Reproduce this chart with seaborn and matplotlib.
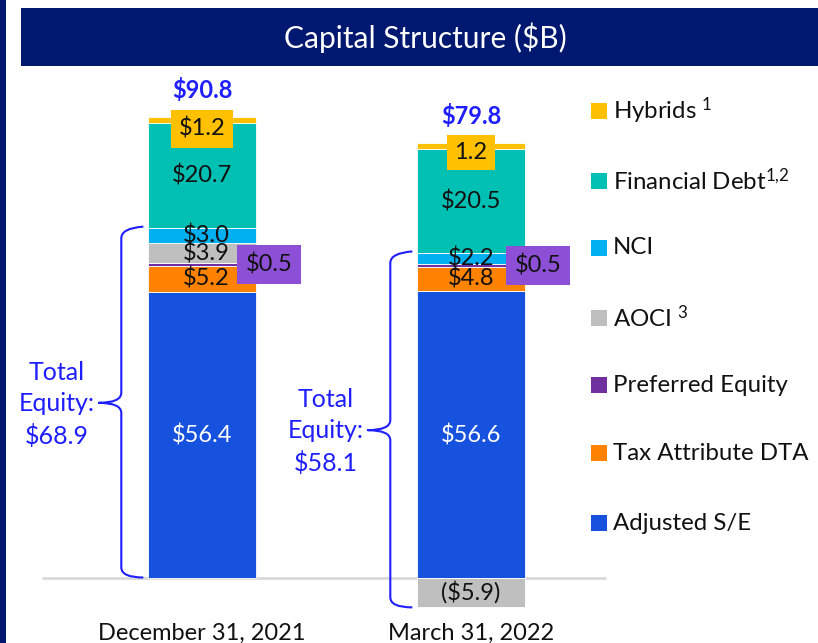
import numpy as np
import pandas as pd
import matplotlib
matplotlib.use("Agg")
import matplotlib.pyplot as plt
from matplotlib.patches import Rectangle, PathPatch
from matplotlib.path import Path
import seaborn as sns

# ---------------- data ----------------
categories = ["December 31, 2021", "March 31, 2022"]
adjusted_se = [56.4, 56.6]
tax_dta = [5.2, 4.8]
preferred = [0.5, 0.5]
aoci = [3.9, -5.9]
nci = [3.0, 2.2]
fin_debt = [20.7, 20.5]
hybrids = [1.2, 1.2]
totals = [90.8, 79.8]
total_equity = [68.9, 58.1]

layer_names = ["Adjusted S/E", "Tax Attribute DTA", "Preferred Equity", "AOCI",
               "NCI", "Financial Debt", "Hybrids"]
layer_values = [adjusted_se, tax_dta, preferred, aoci, nci, fin_debt, hybrids]
layer_colors = ["#1652DE", "#FF8200", "#7030A0", "#BFBFBF", "#00B0F0", "#00BFB3", "#FFC000"]
seg_labels = {
    "Adjusted S/E": ["$56.4", "$56.6"],
    "Tax Attribute DTA": ["$5.2", "$4.8"],
    "Preferred Equity": ["$0.5", "$0.5"],
    "AOCI": ["$3.9", "($5.9)"],
    "NCI": ["$3.0", "$2.2"],
    "Financial Debt": ["$20.7", "$20.5"],
    "Hybrids": ["$1.2", "1.2"],
}
legend_labels = ["Hybrids $^{1}$", "Financial Debt$^{1{,}2}$", "NCI", "AOCI $^{3}$",
                 "Preferred Equity", "Tax Attribute DTA", "Adjusted S/E"]
legend_colors = ["#FFC000", "#00BFB3", "#00B0F0", "#BFBFBF", "#7030A0", "#FF8200", "#1652DE"]

# ---------------- style ----------------
sns.set_theme(style="white")
plt.rcParams["font.family"] = ["Lato", "DejaVu Sans"]
plt.rcParams["mathtext.fontset"] = "custom"
plt.rcParams["mathtext.rm"] = "Lato"
plt.rcParams["mathtext.default"] = "regular"

W, H = 818, 643
fig = plt.figure(figsize=(W / 100, H / 100), dpi=100)
fig.patch.set_facecolor("white")

def fx(px):
    return px / W

def fy(py):
    return 1 - py / H

NAVY = "#00186F"
BLUE_TXT = "#1E1EFF"
TXT = "#111111"

# left strip and title banner
fig.patches.append(Rectangle((0, 0), fx(6), 1, transform=fig.transFigure,
                             facecolor=NAVY, edgecolor="none", zorder=0))
fig.patches.append(Rectangle((fx(21), fy(66)), 1 - fx(21), fy(8) - fy(66),
                             transform=fig.transFigure, facecolor=NAVY,
                             edgecolor="none", zorder=0))
fig.text(fx(425), fy(38), "Capital Structure ($B)", color="white", fontsize=21.5,
         ha="center", va="center")

# axes: pixel mapping
ax = fig.add_axes([0, fy(612), 1, 1 - fy(612)])
ax.patch.set_visible(False)

pos_cum = np.zeros(len(categories))
neg_cum = np.zeros(len(categories))
bottoms = {}
for name, vals, col in zip(layer_names, layer_values, layer_colors):
    vals = np.array(vals, dtype=float)
    bot = np.where(vals >= 0, pos_cum, neg_cum)
    bottoms[name] = bot.copy()
    df = pd.DataFrame({"cat": categories, "val": vals})
    sns.barplot(data=df, x="cat", y="val", order=categories, bottom=bot, color=col,
                width=0.4015, errorbar=None, edgecolor="white", linewidth=0.6,
                saturation=1, ax=ax)
    pos_cum = pos_cum + np.where(vals >= 0, vals, 0)
    neg_cum = neg_cum + np.where(vals < 0, vals, 0)

ppx = 269.0     # pixels per x unit
ppy = 5.063     # pixels per y unit
ax.set_xlim(-202 / ppx, (W - 202) / ppx)
ax.set_ylim(-34.5 / ppy, 577.5 / ppy)
for s in ax.spines.values():
    s.set_visible(False)
ax.set_yticks([])
ax.set_xlabel("")
ax.set_ylabel("")
ax.tick_params(axis="x", length=0, pad=8, labelsize=17, labelcolor=TXT)

# zero line
ax.axhline(0, xmin=43 / W, xmax=605 / W, color="#D9D9D9", lw=2, zorder=0.5)

# segment labels
for i, cat in enumerate(categories):
    for name, vals in zip(layer_names, layer_values):
        v = vals[i]
        b = bottoms[name][i]
        c = b + v / 2
        lab = seg_labels[name][i]
        if name == "Hybrids":
            off = -1.7 if i == 0 else -1.2
            padx = 0.33 if i == 0 else 0.3
            ax.text(i, c + off, lab, ha="center", va="center", fontsize=17, color=TXT,
                    bbox=dict(boxstyle=f"square,pad={padx}", fc="#FFC000", ec="none"), zorder=5)
        elif name == "Preferred Equity":
            ax.text(i + 0.249, c, lab, ha="center", va="center", fontsize=17, color=TXT,
                    bbox=dict(boxstyle="square,pad=0.36", fc="#8C4FD6", ec="none"), zorder=5)
        elif name == "Adjusted S/E":
            ax.text(i, c - 0.2, lab, ha="center", va="center", fontsize=17, color="white", zorder=5)
        else:
            ax.text(i + (0.015 if i == 0 and name in ("NCI", "AOCI", "Tax Attribute DTA") else 0),
                    c, lab, ha="center", va="center", fontsize=17, color=TXT, zorder=5)

# totals
top_pos = pos_cum
for i, t in enumerate(totals):
    ax.text(i, top_pos[i] + 5.3, f"${t:.1f}", ha="center", va="center", fontsize=17,
            fontweight="bold", color=BLUE_TXT, zorder=6)

# braces for total equity
def brace(ax, xv, top, bottom, x_hook_top, x_hook_bot, x_tip, color):
    mid = (top + bottom) / 2
    r = 2.0
    verts = [(x_hook_top, top + 0.3), (xv, top), (xv, top - r),
             (xv, mid + r),
             (xv, mid), (x_tip, mid),
             (xv, mid), (xv, mid - r),
             (xv, bottom + r),
             (xv, bottom), (x_hook_bot, bottom)]
    codes = [Path.MOVETO, Path.CURVE3, Path.CURVE3, Path.LINETO,
             Path.CURVE3, Path.CURVE3, Path.CURVE3, Path.CURVE3,
             Path.LINETO, Path.CURVE3, Path.CURVE3]
    ax.add_patch(PathPatch(Path(verts, codes), fc="none", ec=color, lw=1.5, zorder=4))
    return mid

for i, te in enumerate(total_equity):
    top = adjusted_se[i] + tax_dta[i] + preferred[i] + max(aoci[i], 0) + nci[i]
    bot = min(aoci[i], 0)
    mid = brace(ax, i - 0.30, top, bot, i - 0.218, i - 0.218, i - 0.385, BLUE_TXT)
    ax.text(i - 0.54, mid - 0.3, f"Total\nEquity:\n${te:.1f}", ha="center", va="center",
            fontsize=18, color=BLUE_TXT, linespacing=1.45, zorder=5)

# legend (manual)
leg_y = [111, 181, 248, 318, 385, 453, 523]
for lab, col, y in zip(legend_labels, legend_colors, leg_y):
    fig.patches.append(Rectangle((fx(591), fy(y + 8)), fx(16), fy(y - 8) - fy(y + 8),
                                 transform=fig.transFigure, facecolor=col,
                                 edgecolor="none", zorder=3))
    fig.text(fx(613), fy(y), lab, ha="left", va="center", fontsize=17.3, color=TXT)

fig.savefig("out.png", dpi=100)
